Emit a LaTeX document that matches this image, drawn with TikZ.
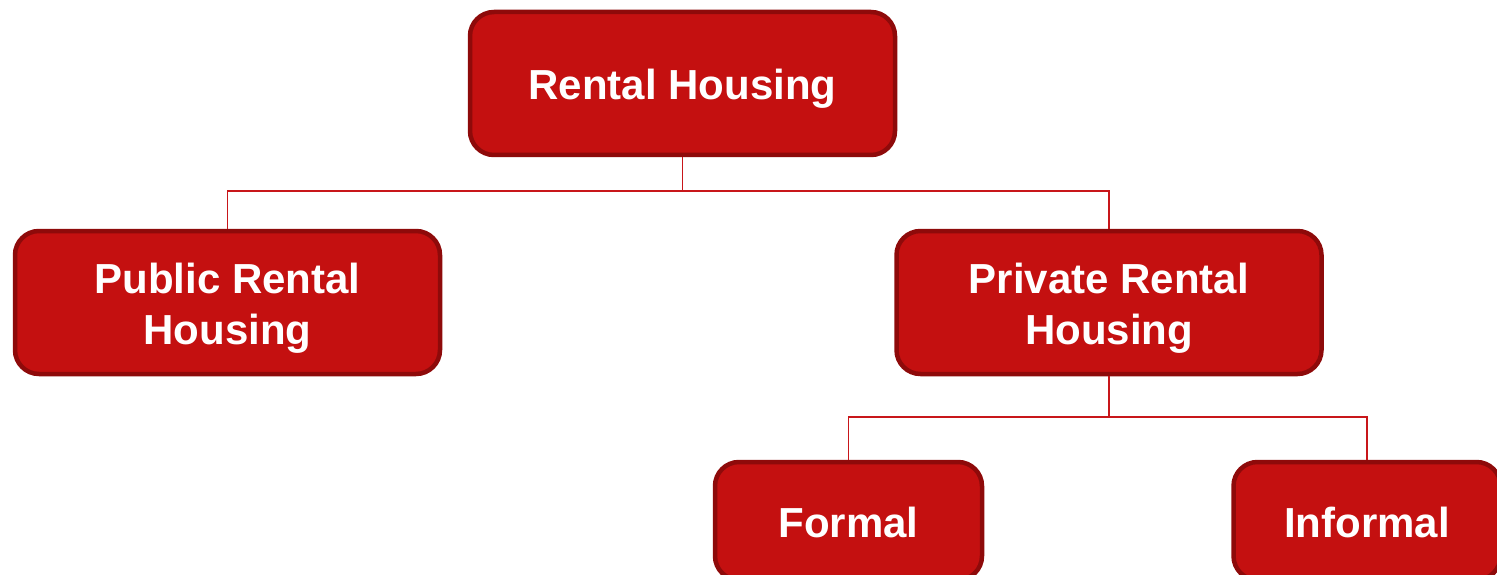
\documentclass[tikz,border=0pt]{standalone}
\usepackage{fontspec}
\setmainfont{Liberation Sans}
% box labels: one or more centred lines, set slightly below the box centre
\newcommand\boxlabel[1]{\raisebox{-6pt}[\height][\depth]{\begin{tabular}{@{}c@{}}#1\end{tabular}}}
\begin{document}
\definecolor{boxfill}{HTML}{C41010}
\definecolor{boxedge}{HTML}{8E0A0A}
\definecolor{linkred}{HTML}{C8161A}
\begin{tikzpicture}[x=1pt,y=-1pt,
  catbox/.style={draw=boxedge, line width=4.5pt, fill=boxfill, rounded corners=24pt,
    text=white, font=\fontsize{42}{51}\selectfont\bfseries,
    minimum width=425pt, minimum height=143pt, inner sep=0pt},
  leafbox/.style={catbox, minimum width=267pt, minimum height=118pt},
  link/.style={draw=linkred, line width=1.8pt}]
\useasboundingbox (0,0) rectangle (1497,575);
\node[catbox] (root) at (682.5,83.5) {\boxlabel{Rental Housing}};
\node[catbox] (pub) at (227.5,302.5) {\boxlabel{Public Rental\\Housing}};
\node[catbox] (priv) at (1109,302.5) {\boxlabel{Private Rental\\Housing}};
\node[leafbox] (formal) at (848.5,521) {\boxlabel{Formal}};
\node[leafbox] (informal) at (1367,521) {\boxlabel{Informal}};
\draw[link] (root.south) -- ++(0,34) -| (pub.north);
\draw[link] (root.south) -- ++(0,34) -| (priv.north);
\draw[link] (priv.south) -- ++(0,41) -| (formal.north);
\draw[link] (priv.south) -- ++(0,41) -| (informal.north);
\end{tikzpicture}
\end{document}
